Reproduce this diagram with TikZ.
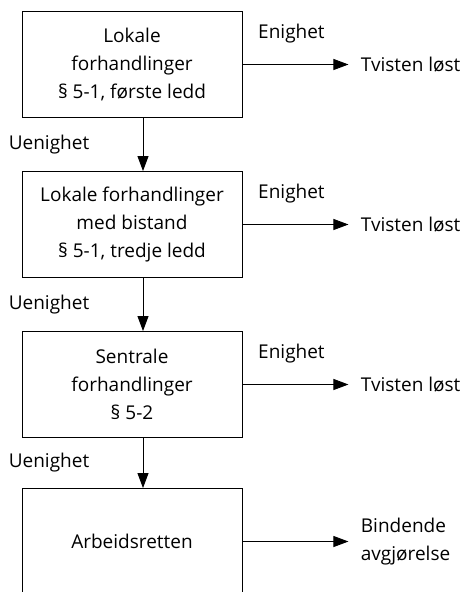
\documentclass[tikz,border=0pt]{standalone}
\usepackage{fontspec}
\setmainfont{Open Sans}
\usetikzlibrary{arrows.meta,positioning}

\begin{document}
\begin{tikzpicture}[x=1bp,y=1bp,->,>={Triangle[length=15bp,width=11bp]},line width=0.9bp,node distance=160bp,font=\fontsize{19bp}{28bp}\selectfont,stage/.style={draw=black,line width=0.9bp,rectangle,minimum width=220bp,minimum height=106bp,align=center},outcome/.style={align=left,anchor=west,inner sep=0pt},yes/.style={xshift=-10bp,yshift=31bp},no/.style={xshift=-94bp}]
	\useasboundingbox (0,0) rectangle (464,-592);
	\node[stage]			(lokal)		at (132,-64.5)						{Lokale\\forhandlinger\\§ 5-1, første ledd};
	\node[stage]			(bistand)	[below of=lokal]					{Lokale forhandlinger\\med bistand\\§ 5-1, tredje ledd};
	\node[stage]			(sentral)	[below of=bistand]					{Sentrale\\forhandlinger\\§ 5-2};
	\node[stage]			(rett)		[below of=sentral,yshift=3bp]		{Arbeidsretten};
	\node[outcome]			(loest1)	[right=118bp of lokal]				{Tvisten løst};
	\node[outcome]			(loest2)	[right=118bp of bistand]			{Tvisten løst};
	\node[outcome]			(loest3)	[right=118bp of sentral]			{Tvisten løst};
	\node[outcome]			(dom)		[right=118bp of rett]				{Bindende\\avgjørelse};
	
	\path
		(lokal)		edge	[shorten >=12bp]	node[yes]	{Enighet}	(loest1)
		(bistand)	edge	[shorten >=12bp]	node[yes]	{Enighet}	(loest2)
		(sentral)	edge	[shorten >=12bp]	node[yes]	{Enighet}	(loest3)
		(rett)		edge	[shorten >=12bp]						(dom)
		([xshift=11bp]lokal.south)		edge	node[no]	{Uenighet}	([xshift=11bp]bistand.north)
		([xshift=11bp]bistand.south)	edge	node[no]	{Uenighet}	([xshift=11bp]sentral.north)
		([xshift=11bp]sentral.south)	edge	node[no]	{Uenighet}	([xshift=11bp]rett.north)
	;
\end{tikzpicture}
\end{document}
